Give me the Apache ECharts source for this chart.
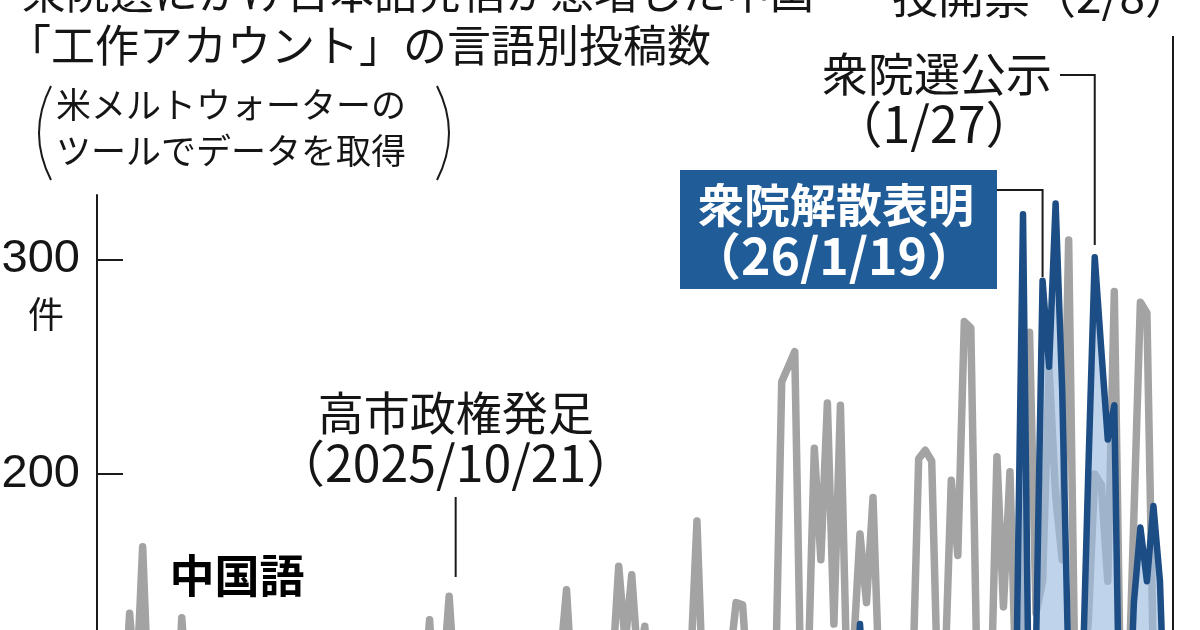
<!DOCTYPE html>
<html><head><meta charset="utf-8">
<script src="https://cdn.jsdelivr.net/npm/echarts@6/dist/echarts.min.js"></script>
<style>html,body{margin:0;padding:0;background:#fff}#c{width:1200px;height:630px}</style>
</head><body><div id="c"></div>
<script>
// ---- data ----
const startDate = '2025-08-27';   // first category (axis start)
const dayCount = 166;             // 2025-08-27 .. 2026-02-08
const titleLines = ['衆院選にかけ日本語発信が急増した中国', '「工作アカウント」の言語別投稿数'];
const noteLines = ['米メルトウォーターの', 'ツールでデータを取得'];
const yUnit = '件';
const yTicks = [0, 100, 200, 300];
const yMax = 330;
const seriesNames = ['中国語', '日本語'];
// daily posts, Chinese
const chinese = [
  45, 70, 58, 92, 80, 135, 98, 166, 88, 62,
  75, 96, 70, 133, 90, 55, 68, 84, 60, 77,
  52, 88, 101, 66, 79, 58, 93, 72, 48, 85,
  99, 64, 71, 57, 86, 105, 62, 78, 90, 54,
  69, 83, 60, 97, 74, 58, 88, 104, 67, 80,
  94, 132, 85, 102, 143, 96, 72, 110, 64, 89,
  76, 101, 58, 92, 115, 70, 84, 99, 63, 108,
  88, 112, 146, 95, 79, 104, 68, 118, 91, 107,
  157, 121, 153, 110, 129, 86, 102, 74, 115, 96,
  84, 109, 178, 92, 117, 73, 101, 112, 140, 139,
  95, 116, 82, 108, 96, 243, 250, 257, 88, 102,
  212, 160, 233, 130, 232, 104, 118, 172, 140, 189,
  98, 76, 110, 85, 102, 94, 207, 211, 206, 90,
  104, 197, 162, 271, 268, 96, 112, 85, 208, 138,
  201, 92, 115, 266, 135, 150, 249, 190, 160, 309,
  95, 108, 130, 200, 195, 150, 285, 88, 80, 180,
  280, 275, 110, 85, 70
];
// daily posts, Japanese
const japanese = [
  5, 8, 3, 10, 6, 12, 4, 9, 7, 11,
  6, 14, 8, 5, 10, 13, 7, 9, 12, 6,
  10, 8, 15, 6, 11, 9, 13, 7, 10, 12,
  8, 16, 10, 7, 13, 11, 9, 15, 8, 12,
  14, 9, 11, 17, 10, 13, 8, 15, 12, 18,
  11, 20, 14, 9, 25, 16, 12, 19, 13, 22,
  15, 18, 24, 12, 20, 28, 16, 22, 19, 26,
  21, 30, 18, 25, 34, 20, 28, 23, 36, 26,
  32, 24, 40, 29, 35, 27, 44, 31, 38, 30,
  46, 35, 52, 40, 38, 60, 45, 55, 42, 65,
  50, 72, 58, 48, 80, 62, 70, 55, 85, 66,
  90, 75, 68, 95, 78, 100, 84, 130, 88, 105,
  76, 92, 110, 82, 98, 70, 115, 88, 102, 95,
  108, 84, 118, 92, 100, 86, 112, 96, 105, 90,
  80, 110, 321, 60, 120, 290, 250, 326, 240, 105,
  40, 90, 200, 301, 258, 216, 232, 40, 60, 140,
  175, 150, 185, 150, 60
];
const events = [
  { date: '2025-10-21', lines: ['高市政権発足', '（2025/10/21）'] },
  { date: '2026-01-19', lines: ['衆院解散表明', '（26/1/19）'] },
  { date: '2026-01-27', lines: ['衆院選公示', '（1/27）'] },
  { date: '2026-02-08', lines: ['投開票（2/8）'] }
];

// ---- build ----
function buildDates() {
  const p = startDate.split('-').map(Number);
  const t0 = Date.UTC(p[0], p[1] - 1, p[2]);
  const out = [];
  for (let i = 0; i < dayCount; i++) {
    const d = new Date(t0 + i * 86400000);
    const m = String(d.getUTCMonth() + 1).padStart(2, '0');
    const dd = String(d.getUTCDate()).padStart(2, '0');
    out.push(d.getUTCFullYear() + '-' + m + '-' + dd);
  }
  return out;
}
const dates = buildDates();

const JP = '"Noto Sans CJK JP", "Noto Sans", sans-serif';
const NUM = '"Liberation Sans", Arial, sans-serif';
const INK = '#151515';

const chart = echarts.init(document.getElementById('c'), null, { renderer: 'canvas' });
chart.setOption({
  animation: false,
  backgroundColor: '#ffffff',
  grid: { left: 97, width: 1076, top: 195, height: 708, containLabel: false, outerBoundsMode: 'none' },
  xAxis: {
    type: 'category', data: dates, boundaryGap: false,
    axisLine: { show: false }, axisTick: { show: false }, axisLabel: { show: false }, splitLine: { show: false }
  },
  yAxis: {
    type: 'value', min: 0, max: yMax, interval: 100,
    axisLine: { show: true, lineStyle: { color: '#1a1a1a', width: 2 } },
    axisTick: { show: true, inside: true, length: 26, customValues: yTicks, lineStyle: { color: '#1a1a1a', width: 2 } },
    axisLabel: { show: true, customValues: yTicks, margin: 17, fontSize: 47, color: INK, fontFamily: NUM },
    splitLine: { show: false }
  },
  series: [
    {
      name: seriesNames[0], type: 'line', data: chinese, symbol: 'none', z: 2,
      lineStyle: { color: '#a3a3a3', width: 7.5, cap: 'round', join: 'round' }
    },
    {
      name: seriesNames[1], type: 'line', data: japanese, symbol: 'none', z: 3,
      lineStyle: { color: '#1c4d85', width: 6.5, cap: 'round', join: 'round' },
      areaStyle: { color: '#9dbbe0', opacity: 0.65 }
    }
  ]
});

function xOf(date) { return chart.convertToPixel({ xAxisIndex: 0 }, date); }
function txt(x, y, text, size, extra) {
  return { type: 'text', x: x, y: y, z: 20,
    style: Object.assign({ text: text, fontSize: size, fontFamily: JP, fill: INK, align: 'center', verticalAlign: 'middle' }, extra || {}) };
}
function pline(pts) {
  return { type: 'polyline', z: 15, shape: { points: pts }, style: { stroke: '#1a1a1a', lineWidth: 2, fill: null } };
}

const xT = xOf(events[0].date), xD = xOf(events[1].date), xK = xOf(events[2].date), xV = xOf(events[3].date);
const g = [];
// titles
g.push(txt(22, -8, titleLines[0], 44, { align: 'left' }));
g.push(txt(7, 45, titleLines[1], 44, { align: 'left' }));
// source note with brackets
g.push(txt(56, 105, noteLines[0], 35, { align: 'left' }));
g.push(txt(56, 151, noteLines[1], 35, { align: 'left' }));
g.push({ type: 'bezierCurve', z: 15, shape: { x1: 51, y1: 86, x2: 51, y2: 180, cpx1: 27, cpy1: 133 }, style: { stroke: '#1a1a1a', lineWidth: 2, fill: null } });
g.push({ type: 'bezierCurve', z: 15, shape: { x1: 437, y1: 86, x2: 437, y2: 180, cpx1: 461, cpy1: 133 }, style: { stroke: '#1a1a1a', lineWidth: 2, fill: null } });
// unit
g.push(txt(46, 314, yUnit, 36));
// series label
g.push(txt(237, 576, seriesNames[0], 45, { fontWeight: 'bold', fill: '#000' }));
// 高市政権発足
g.push(txt(xT, 413, events[0].lines[0], 46));
g.push(txt(xT, 463, events[0].lines[1], 50));
g.push(pline([[xT, 497], [xT, 577]]));
// 衆院解散表明 box
g.push({ type: 'rect', z: 16, shape: { x: 680, y: 170, width: 317, height: 119 }, style: { fill: '#1f5c98' } });
g.push(txt(836, 205, events[1].lines[0], 46, { fontWeight: 'bold', fill: '#ffffff' }));
g.push(txt(834, 256, events[1].lines[1], 50, { fontWeight: 'bold', fill: '#ffffff' }));
g.push(pline([[997, 190], [xD, 190], [xD, 277]]));
// 衆院選公示
g.push(txt(937, 74, events[2].lines[0], 46));
g.push(txt(934, 124, events[2].lines[1], 50));
g.push(pline([[1060, 75], [xK, 75], [xK, 245]]));
// 投開票
g.push(txt(xV + 18, -4, events[3].lines[0], 46, { align: 'right' }));
g.push(pline([[xV, 36], [xV, 640]]));

chart.setOption({ graphic: { elements: g } });
</script></body></html>
